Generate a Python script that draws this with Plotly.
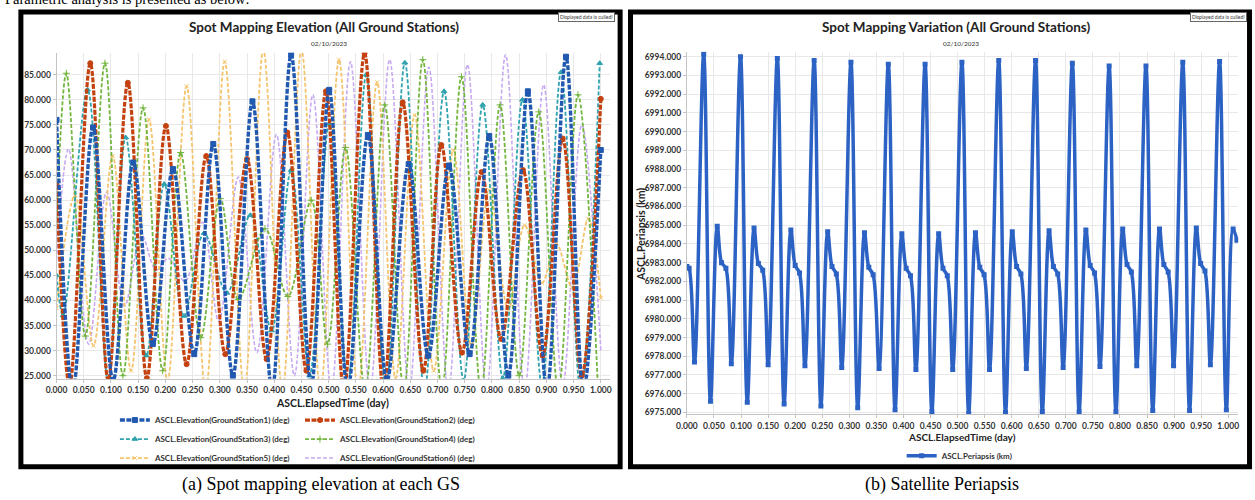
import plotly.graph_objects as go

W, H = 1255, 500
def px(x):
    return x / W
def py(y):
    return 1 - y / H

FONT = "Lato, Liberation Sans, sans-serif"
SERIF = "Liberation Serif, Times New Roman, serif"

# ---------------- tick definitions ----------------
x_ticks = [0.0, 0.05, 0.1, 0.15, 0.2, 0.25, 0.3, 0.35, 0.4, 0.45, 0.5,
           0.55, 0.6, 0.65, 0.7, 0.75, 0.8, 0.85, 0.9, 0.95, 1.0]
x_tick_labels = ["0.000", "0.050", "0.100", "0.150", "0.200", "0.250", "0.300",
                 "0.350", "0.400", "0.450", "0.500", "0.550", "0.600", "0.650",
                 "0.700", "0.750", "0.800", "0.850", "0.900", "0.950", "1.000"]
elev_ticks = [25, 30, 35, 40, 45, 50, 55, 60, 65, 70, 75, 80, 85]
elev_tick_labels = ["25.000", "30.000", "35.000", "40.000", "45.000", "50.000",
                    "55.000", "60.000", "65.000", "70.000", "75.000", "80.000", "85.000"]
peri_ticks = [6975, 6976, 6977, 6978, 6979, 6980, 6981, 6982, 6983, 6984,
              6985, 6986, 6987, 6988, 6989, 6990, 6991, 6992, 6993, 6994]
peri_tick_labels = ["6975.000", "6976.000", "6977.000", "6978.000", "6979.000",
                    "6980.000", "6981.000", "6982.000", "6983.000", "6984.000",
                    "6985.000", "6986.000", "6987.000", "6988.000", "6989.000",
                    "6990.000", "6991.000", "6992.000", "6993.000", "6994.000"]

# ---------------- elevation series (turning points) ----------------
gs1_t = [0, 0.03, 0.067, 0.104, 0.141, 0.177, 0.214, 0.253, 0.288, 0.324, 0.36, 0.396,
         0.431, 0.468, 0.501, 0.535, 0.572, 0.607, 0.647, 0.683, 0.721, 0.759, 0.795,
         0.83, 0.866, 0.901, 0.936, 0.968, 1.0]
gs1_v = [76, 22, 74.5, 24, 67.5, 31.3, 66.2, 29.3, 71.2, 25, 79.7, 22, 89.0, 23, 82,
         22, 73, 24, 67.2, 29, 66.9, 29.3, 72.8, 25, 81.7, 22, 88.6, 22, 70]

gs2_t = [0, 0.024, 0.062, 0.095, 0.131, 0.166, 0.201, 0.239, 0.275, 0.31, 0.35, 0.386,
         0.424, 0.459, 0.495, 0.528, 0.566, 0.601, 0.636, 0.674, 0.707, 0.745, 0.781,
         0.817, 0.857, 0.893, 0.93, 0.965, 1.0]
gs2_v = [63, 23, 87.3, 24, 83.4, 24.5, 74.8, 27.3, 68.8, 29.3, 68.2, 28.3, 73.5, 26,
         81.7, 22, 89.3, 22, 79.5, 26, 71, 29.6, 65.6, 32.3, 66, 29, 72.3, 25, 80.2]

gs3_t = [0, 0.012, 0.057, 0.095, 0.127, 0.165, 0.198, 0.234, 0.271, 0.313, 0.356, 0.395,
         0.431, 0.465, 0.501, 0.535, 0.569, 0.605, 0.64, 0.676, 0.712, 0.748, 0.783,
         0.82, 0.856, 0.892, 0.927, 0.963, 0.998]
gs3_v = [45, 37, 82, 24, 72.5, 29, 63.2, 36.9, 53.4, 41.5, 57, 34, 66, 25, 75.3, 23,
         85, 22, 87.4, 22, 81.7, 24, 79, 24.5, 80, 23, 85.5, 22, 87.3]

gs4_t = [0, 0.018, 0.053, 0.089, 0.122, 0.159, 0.195, 0.228, 0.265, 0.301, 0.334, 0.383,
         0.425, 0.468, 0.498, 0.531, 0.567, 0.603, 0.638, 0.673, 0.708, 0.744, 0.78,
         0.815, 0.85, 0.886, 0.922, 0.958, 0.995]
gs4_v = [55, 85.3, 32.9, 87.3, 25, 78.4, 26, 69.5, 32.6, 60.3, 40.2, 54.3, 40.8, 60,
         31.3, 70.5, 22, 79, 22, 88, 22, 84.6, 22, 79, 25, 77.6, 22, 81, 22]

gs5_t = [0, 0.034, 0.068, 0.103, 0.137, 0.17, 0.204, 0.239, 0.274, 0.309, 0.345, 0.38,
         0.415, 0.45, 0.485, 0.519, 0.554, 0.589, 0.623, 0.658, 0.693, 0.729, 0.762,
         0.795, 0.83, 0.86, 0.892, 0.918, 0.948, 0.977, 1.0]
gs5_v = [38.5, 61, 31, 68.8, 26, 76.1, 24, 82.7, 22, 87.6, 22, 90, 22, 90, 22, 88, 22,
         83.5, 24.5, 77, 26, 70, 31, 62, 38.2, 55, 43.5, 51.4, 42.5, 56.3, 40.5]

gs6_t = [0, 0.022, 0.059, 0.092, 0.125, 0.156, 0.183, 0.206, 0.236, 0.268, 0.298, 0.334,
         0.368, 0.404, 0.437, 0.471, 0.505, 0.54, 0.576, 0.612, 0.648, 0.684, 0.72,
         0.755, 0.79, 0.825, 0.86, 0.895, 0.93, 0.965, 1.0]
gs6_v = [48, 70.2, 31.3, 61.6, 38.9, 53, 46.1, 48.4, 43.8, 55.6, 35.9, 64.6, 29.6,
         73.1, 25, 81, 22, 87.6, 22, 88, 22, 86.5, 22, 87, 22, 89, 22, 83, 23, 75, 30]

gs_names = ["ASCL.Elevation(GroundStation1) (deg)", "ASCL.Elevation(GroundStation2) (deg)",
            "ASCL.Elevation(GroundStation3) (deg)", "ASCL.Elevation(GroundStation4) (deg)",
            "ASCL.Elevation(GroundStation5) (deg)", "ASCL.Elevation(GroundStation6) (deg)"]

# ---------------- periapsis (turning points per orbit) ----------------
peri_start_t = [0.0, 0.004]
peri_start_v = [6982.8, 6982.7]
shallow_t = [0.014, 0.082, 0.150, 0.218, 0.286, 0.355, 0.423, 0.491, 0.559, 0.627,
             0.695, 0.763, 0.831, 0.899, 0.967]
shallow_v = [6977.7, 6977.6, 6977.55, 6977.5, 6977.4, 6977.35, 6977.3, 6977.3, 6977.3,
             6977.35, 6977.4, 6977.45, 6977.5, 6977.5, 6977.55]
peak_t = [0.031, 0.099, 0.167, 0.235, 0.303, 0.372, 0.440, 0.508, 0.576, 0.644,
          0.712, 0.780, 0.848, 0.916, 0.984]
peak_v = [6994.15, 6994.0, 6993.9, 6993.8, 6993.7, 6993.6, 6993.6, 6993.7, 6993.8,
          6993.8, 6993.65, 6993.5, 6993.5, 6993.7, 6993.75]
deep_t = [0.0435, 0.1115, 0.1795, 0.2475, 0.3155, 0.3845, 0.4525, 0.5205, 0.5885,
          0.6565, 0.7245, 0.7925, 0.8605, 0.9285, 0.9965]
deep_v = [6975.6, 6975.55, 6975.45, 6975.35, 6975.25, 6975.15, 6975.05, 6974.95,
          6975.0, 6975.05, 6975.05, 6975.05, 6975.1, 6975.1, 6975.15]
second_t = [0.056, 0.124, 0.192, 0.260, 0.328, 0.397, 0.465, 0.533, 0.601, 0.669,
            0.737, 0.805, 0.873, 0.941, 1.009]
second_v = [6984.95, 6984.85, 6984.75, 6984.65, 6984.6, 6984.55, 6984.55, 6984.6,
            6984.65, 6984.7, 6984.75, 6984.8, 6984.8, 6984.85, 6984.8]
shoulder_t = [0.064, 0.132, 0.200, 0.268, 0.336, 0.405, 0.473, 0.541, 0.609, 0.677,
              0.745, 0.813, 0.881, 0.949, 1.016]
shoulder_v = [6983.0, 6982.95, 6982.85, 6982.8, 6982.75, 6982.7, 6982.7, 6982.75,
              6982.8, 6982.8, 6982.85, 6982.9, 6982.9, 6982.95, 6984.2]
plateau_t = [0.072, 0.140, 0.208, 0.276, 0.344, 0.413, 0.481, 0.549, 0.617, 0.685,
             0.753, 0.821, 0.889, 0.957]
plateau_v = [6982.7, 6982.6, 6982.45, 6982.4, 6982.35, 6982.3, 6982.3, 6982.35,
             6982.4, 6982.4, 6982.45, 6982.5, 6982.5, 6982.55]

pts = list(zip(peri_start_t, peri_start_v)) + list(zip(shallow_t, shallow_v)) + \
    list(zip(peak_t, peak_v)) + list(zip(deep_t, deep_v)) + list(zip(second_t, second_v)) + \
    list(zip(shoulder_t, shoulder_v)) + list(zip(plateau_t, plateau_v))
pts.sort()
peri_t = [p[0] for p in pts]
peri_v = [p[1] for p in pts]

# ---------------- figure ----------------
fig = go.Figure()

styles = [
    dict(color="#2159b0", width=3.4, symbol="square", size=5, dash="5px,1.5px", mode="lines+markers"),
    dict(color="#c4420f", width=3.2, symbol="circle", size=5, dash="5px,1.5px", mode="lines+markers"),
    dict(color="#2fa3ae", width=1.8, symbol="triangle-up", size=5, dash="4px,2px", mode="lines+markers"),
    dict(color="#72b63e", width=1.8, symbol="cross-thin", size=5, dash="4px,2px", mode="lines+markers"),
    dict(color="#f4c46c", width=1.8, symbol="x-thin", size=4, dash="4px,2px", mode="lines+markers"),
    dict(color="#c7a9f1", width=1.6, symbol="circle", size=4, dash="4px,2px", mode="lines"),
]
series = [(gs1_t, gs1_v), (gs2_t, gs2_v), (gs3_t, gs3_v),
          (gs4_t, gs4_v), (gs5_t, gs5_v), (gs6_t, gs6_v)]
legend_of = ["legend", "legend2", "legend", "legend2", "legend", "legend2"]

for i in [5, 4, 3, 2, 1, 0]:
    t, v = series[i]
    s = styles[i]
    fig.add_trace(go.Scatter(
        x=t, y=v, mode=s["mode"], name=gs_names[i],
        line=dict(color=s["color"], width=s["width"], dash=s["dash"], shape="spline"),
        marker=dict(symbol=s["symbol"], size=s["size"], color=s["color"],
                    line=dict(color=s["color"], width=1)),
        legend=legend_of[i], legendrank=i + 1,
        xaxis="x", yaxis="y", cliponaxis=True, hoverinfo="skip"))

fig.add_trace(go.Scatter(
    x=peri_t, y=peri_v, mode="lines+markers", name="ASCL.Periapsis (km)",
    line=dict(color="#2b62c4", width=3.5, shape="spline"),
    marker=dict(symbol="square", size=5, color="#2b62c4"),
    legend="legend3", xaxis="x2", yaxis="y2", hoverinfo="skip"))

tickfont = dict(family=FONT, size=8.5, color="#333333", weight="bold")
axis_common = dict(showgrid=True, gridcolor="#e8e8e8", gridwidth=1, zeroline=False,
                   showline=True, linecolor="#c4c4c4", linewidth=1,
                   ticks="outside", ticklen=3, tickcolor="#c4c4c4",
                   tickfont=tickfont, tickmode="array", tickangle=0)

legend_font = dict(family=FONT, size=8, color="#333333", weight="bold")
fig.update_layout(
    width=W, height=H, margin=dict(l=0, r=0, t=0, b=0),
    paper_bgcolor="white", plot_bgcolor="white", showlegend=True,
    xaxis=dict(domain=[px(46), px(605)], range=[0, 1.0164], anchor="y",
               tickvals=x_ticks, ticktext=x_tick_labels, **axis_common),
    yaxis=dict(domain=[py(381), py(53)], range=[24.4, 89.4], anchor="x",
               tickvals=elev_ticks, ticktext=elev_tick_labels, **axis_common),
    xaxis2=dict(domain=[px(683), px(1240)], range=[0, 1.0183], anchor="y2",
                tickvals=x_ticks, ticktext=x_tick_labels, **axis_common),
    yaxis2=dict(domain=[py(417), py(52)], range=[6974.89, 6994.27], anchor="x2",
                tickvals=peri_ticks, ticktext=peri_tick_labels, **axis_common),
    legend=dict(x=px(105), y=py(408), xanchor="left", yanchor="top", orientation="v",
                bgcolor="rgba(0,0,0,0)", font=legend_font, itemwidth=30, traceorder="normal"),
    legend2=dict(x=px(292), y=py(408), xanchor="left", yanchor="top", orientation="v",
                 bgcolor="rgba(0,0,0,0)", font=legend_font, itemwidth=30, traceorder="normal"),
    legend3=dict(x=px(900), y=py(444), xanchor="left", yanchor="top", orientation="v",
                 bgcolor="rgba(0,0,0,0)", font=legend_font, itemwidth=30),
)

# frames around the two panels
fig.add_shape(type="rect", xref="paper", yref="paper", x0=px(10), x1=px(615.5),
              y0=py(469.5), y1=py(12), line=dict(color="black", width=5))
fig.add_shape(type="rect", xref="paper", yref="paper", x0=px(626), x1=px(1251.5),
              y0=py(469.5), y1=py(12), line=dict(color="black", width=5))

def ann(text, x, y, size, bold=False, family=FONT, color="#222222",
        xanchor="center", yanchor="middle", **kw):
    fig.add_annotation(text=text, x=px(x), y=py(y), xref="paper", yref="paper",
                       showarrow=False, xanchor=xanchor, yanchor=yanchor,
                       font=dict(family=family, size=size, color=color,
                                 weight="bold" if bold else "normal"),
                       **kw)

ann("Parametric analysis is presented as below:", -8, -1.5, 14.5, family=SERIF,
    color="black", xanchor="left")
ann("Spot Mapping Elevation (All Ground Stations)", 316, 27, 13.5, bold=True)
ann("Spot Mapping Variation (All Ground Stations)", 955, 27, 13.5, bold=True)
ann("02/10/2023", 321, 44, 6.5, color="#333333")
ann("02/10/2023", 960, 44, 6.5, color="#333333")
ann("Displayed data is culled!", 582, 17.5, 5, color="#333333", bordercolor="#666666",
    borderwidth=1, borderpad=1, bgcolor="white")
ann("Displayed data is culled!", 1220, 17.5, 5, color="#333333", bordercolor="#666666",
    borderwidth=1, borderpad=1, bgcolor="white")
ann("ASCL.ElapsedTime (day)", 325, 405, 10.5, bold=True)
ann("ASCL.ElapsedTime (day)", 961, 439.5, 10, bold=True)
ann("ASCL.Periapsis (km)", 636, 236, 10.5, bold=True, textangle=-90)
ann("(a) Spot mapping elevation at each GS", 313, 487, 18, family=SERIF, color="black")
ann("(b) Satellite Periapsis", 941, 487, 18, family=SERIF, color="black")

fig.write_html("out.html")
